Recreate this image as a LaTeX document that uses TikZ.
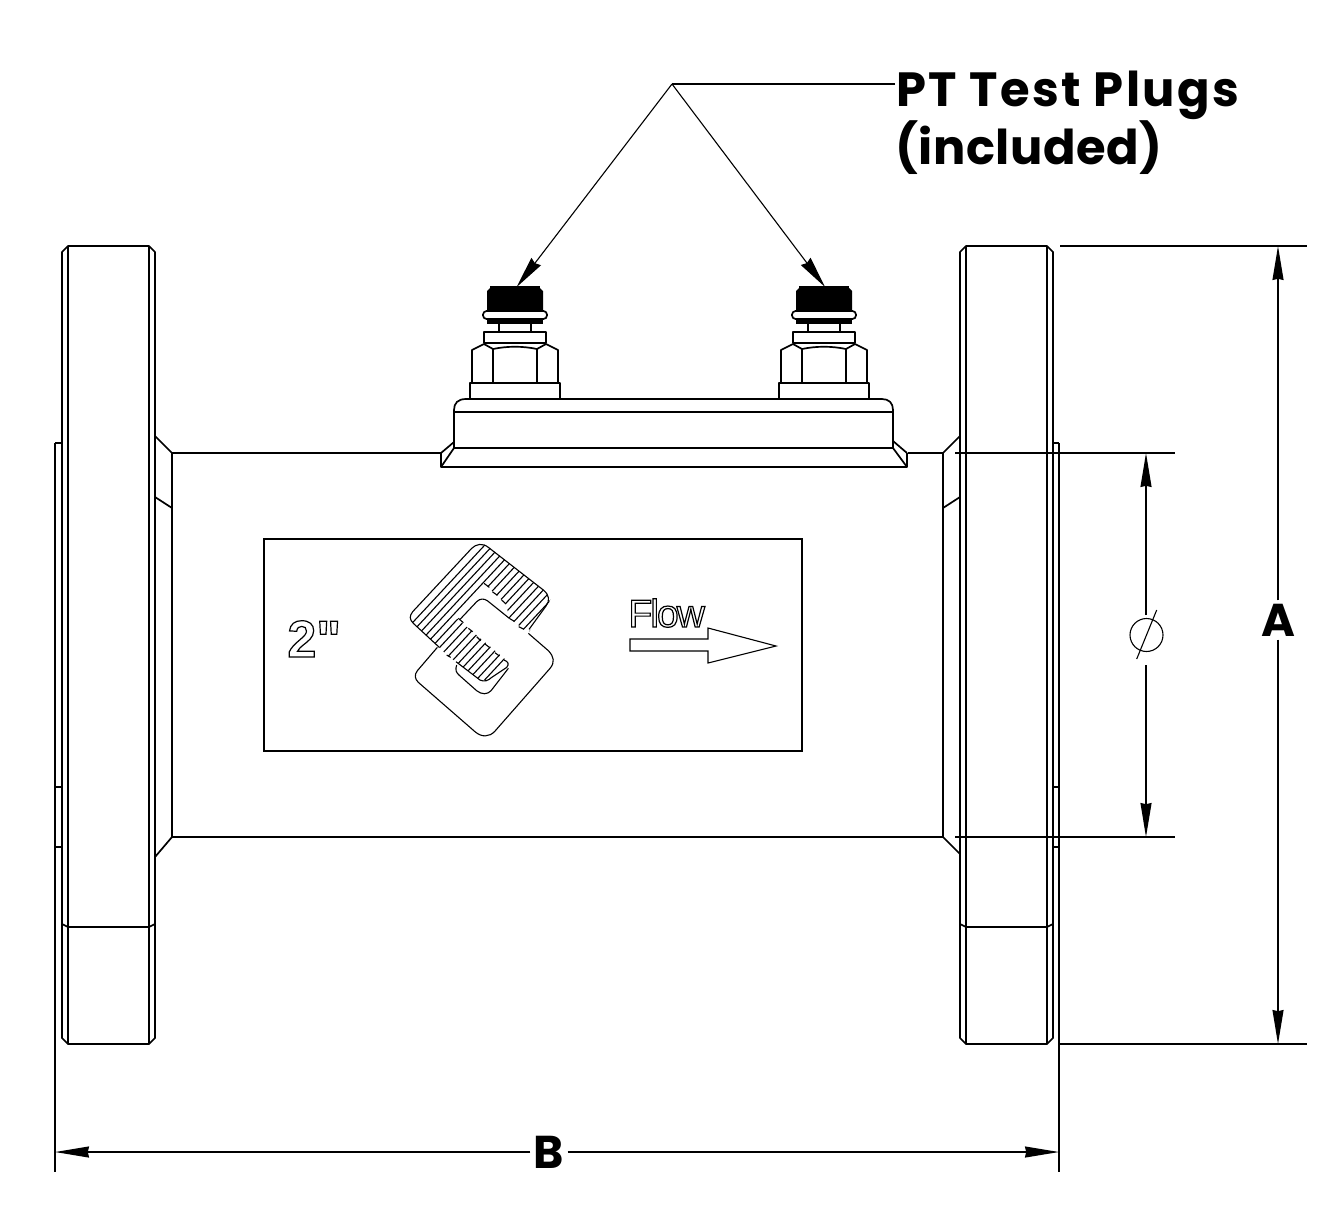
\documentclass[tikz,border=0pt]{standalone}
\usepackage{fontspec}
\setmainfont{Poppins}[BoldFont={Poppins Bold}]
\newfontfamily\platefont{Liberation Sans}
\usetikzlibrary{positioning,arrows.meta}
\tikzset{
  part/.style={line width=0.85pt,line join=round},
  thin part/.style={line width=0.55pt},
  dim/.style={line width=0.7pt},
  leader/.style={line width=0.55pt},
  dimarrow/.style={dim,-{Stealth[length=17pt,width=5.5pt,inset=0.6pt]}},
  leaderarrow/.style={leader,-{Stealth[length=16pt,width=6pt,inset=1pt]}},
  callout/.style={font=\bfseries\fontsize{24}{24}\selectfont,inner sep=0pt,anchor=base west},
  dimlabel/.style={font=\bfseries\fontsize{23}{23}\selectfont,inner sep=1.5pt},
  plate/.style={inner sep=0pt,anchor=base west},
}
\newcommand{\outlined}[1]{\special{pdf:code 1 Tr 0.6 w}#1\special{pdf:code 0 Tr}}
% one plug, centred on x=#1
\newcommand{\testplug}[1]{
  \begin{scope}[shift={(#1,0)}]
    \fill (-28,291) -- (-25,288) -- (25,288) -- (28,291) -- (28,311) -- (-28,311) -- cycle;
    \draw[thin part] (-25,287) -- (25,287);
    \fill (-28,318) rectangle (28,324);
    \draw[part,fill=white,rounded corners=1.8pt] (-32,311) rectangle (32,319);
    \draw[part] (-16,324) -- (-16,332) (16,324) -- (16,332);
    \draw[part] (-31,332) rectangle (31,343);
    \draw[part] (-43,383) -- (-43,350) -- (-31,344) -- (-22,349) .. controls (-8,346) and (8,346) .. (22,349) -- (31,344) -- (43,350) -- (43,383);
    \draw[part] (-22,349) -- (-22,383) (22,349) -- (22,383);
    \draw[part] (-45,399) -- (-45,383) -- (45,383) -- (45,399);
  \end{scope}
}
% one flange, left edge at x=#1
\newcommand{\flange}[1]{
  \begin{scope}[shift={(#1,0)}]
    \draw[part] (0,252) -- (6,246) -- (87,246) -- (93,252) -- (93,1038) -- (87,1044) -- (6,1044) -- (0,1038) -- cycle;
    \draw[thin part] (6,246) -- (6,1044) (87,246) -- (87,1044);
    \draw[part] (0,924) -- (6,927) -- (87,927) -- (93,924);
  \end{scope}
}
\begin{document}
\begin{tikzpicture}[x=0.5pt,y=-0.5pt]
  \useasboundingbox (0,0) rectangle (1322,1222);
  % flanges
  \flange{62}
  \flange{960}
  \draw[thin part] (62,443) -- (55,443);
  \draw[thin part] (55,787) -- (62,787) (55,847) -- (62,847);
  \draw[thin part] (1053,443) -- (1059,443) (1053,787) -- (1059,787) (1053,847) -- (1059,847);
  % body
  \draw[part] (155,436) -- (172,453) -- (441,453);
  \draw[part] (908,453) -- (943,453) -- (960,436);
  \draw[part] (172,453) -- (172,837) -- (943,837) -- (943,453);
  \draw[part] (155,857) -- (172,837) (943,837) -- (960,854);
  \draw[part] (155,497) -- (172,508) (943,508) -- (960,497);
  % manifold
  \draw[part] (454,448) -- (454,410) .. controls (454,403) and (458,399) .. (466,399) -- (882,399) .. controls (889,399) and (893,403) .. (893,410) -- (893,448);
  \draw[part] (454,412) -- (893,412);
  \draw[part] (454,448) -- (893,448);
  \draw[part] (441,453) -- (454,442) (893,441) -- (907,453);
  \draw[part] (441,453) -- (441,467) -- (907,467) -- (907,453);
  \draw[part] (441,467) -- (454,448) (893,448) -- (907,467);
  \testplug{515}
  \testplug{824}
  % name plate
  \draw[thin part] (264,539) rectangle (802,751);
  \node[plate,font=\platefont\bfseries\fontsize{26}{26}\selectfont] (size) at (287,657) {\outlined{2"}};
  \node[plate,font=\platefont\fontsize{19.5}{19.5}\selectfont\addfontfeatures{LetterSpace=-5}] (flowtext) at (628,627) {\outlined{Flow}};
  \draw[thin part] (630,639) -- (708,639) -- (708,628) -- (776,646) -- (708,663) -- (708,651) -- (630,651) -- cycle;
  % logo
  \begin{scope}[shift={(380,530)},x=0.1667pt,y=-0.1667pt,thin part]
    \begin{scope}
      \clip (178,352) -- (100,280) -- (85,255) -- (275,45) -- (300,38) -- (325,50) -- (495,185) -- (512,205) -- (500,235) -- (447,305) -- (432,298) -- (388,265) -- (378,222) -- (312,160) -- (222,258) -- (390,400) -- (385,415) -- (335,450) -- (300,450) -- (228,395) -- (200,375) -- cycle;
      \foreach \n in {1,...,16}
        \draw ({0.73*(243+18.4*\n)-272},{0.68*(243+18.4*\n)+292}) -- ++(544,-584);
    \end{scope}
    \draw (178,352) -- (100,280) .. controls (88,268) and (88,258) .. (98,245) -- (275,55) .. controls (288,42) and (308,38) .. (325,52) -- (490,180) .. controls (508,195) and (510,212) .. (498,228) -- (447,298);
    \draw (312,160) -- (328,172) (337,185) -- (352,196) (365,210) -- (378,222) (388,265) -- (403,274) (416,290) -- (432,298);
    \draw (235,265) -- (250,278) (265,295) -- (278,305) (290,320) -- (302,332) (315,342) -- (328,352) (345,368) -- (358,378);
    \draw (200,375) -- (212,382) (228,395) -- (300,450) .. controls (312,456) and (325,452) .. (335,442) -- (380,412) .. controls (388,402) and (385,395) .. (372,390);
    % lower square
    \draw (172,352) -- (112,422) .. controls (102,435) and (105,447) .. (115,457) -- (285,605) .. controls (305,622) and (328,622) .. (345,603) -- (510,415) .. controls (525,397) and (522,380) .. (505,362) -- (445,310);
    \draw (240,268) -- (290,215) .. controls (300,205) and (312,205) .. (322,212) -- (388,265);
    \draw (230,405) .. controls (225,418) and (228,428) .. (238,436) -- (290,482) .. controls (305,494) and (322,494) .. (333,482) -- (385,415);
  \end{scope}
  % callout
  \node[callout,font=\bfseries\fontsize{24}{24}\selectfont\addfontfeatures{LetterSpace=5}] (plugs) at (896,106) {PT Test Plugs};
  \node[callout,font=\bfseries\fontsize{24}{24}\selectfont\addfontfeatures{LetterSpace=1}] (incl) at (895,164) {(included)};
  \coordinate (apex) at (672,84);
  \coordinate (labelend) at (895,84);
  \coordinate (tipL) at (516.7,287);
  \coordinate (tipR) at (825,287);
  \draw[leader] (labelend) -- (apex);
  \draw[leaderarrow] (apex) -- (tipL);
  \draw[leaderarrow] (apex) -- (tipR);
  % dimension A
  \coordinate (Atop) at (1278,246);
  \coordinate (Abot) at (1278,1044);
  \node[dimlabel] (A) at (1278,620) {A};
  \draw[leader] (1060,246) -- (1307,246) (1060,1044) -- (1307,1044);
  \draw[dimarrow] (A) -- (Atop);
  \draw[dimarrow] (A) -- (Abot);
  % dimension B
  \coordinate (Bleft) at (55,1152);
  \coordinate (Bright) at (1059,1152);
  \node[dimlabel] (B) at (549,1152) {B};
  \draw[leader] (55,443) -- (55,1172) (1059,443) -- (1059,1172);
  \draw[dimarrow] (B) -- (Bleft);
  \draw[dimarrow] (B) -- (Bright);
  % bore
  \coordinate (Dtop) at (1146,453);
  \coordinate (Dbot) at (1146,837);
  \coordinate (phitop) at (1146,615);
  \coordinate (phibot) at (1146,665);
  \draw[leader] (955,453) -- (1175,453) (955,837) -- (1175,837);
  \draw[dimarrow] (phitop) -- (Dtop);
  \draw[dimarrow] (phibot) -- (Dbot);
  \node[draw,circle,leader,inner sep=0pt,minimum size=16.5pt] (phi) at (1146.5,635) {};
  \draw[leader] (1156.7,610) -- (1136.7,659);
\end{tikzpicture}
\end{document}
